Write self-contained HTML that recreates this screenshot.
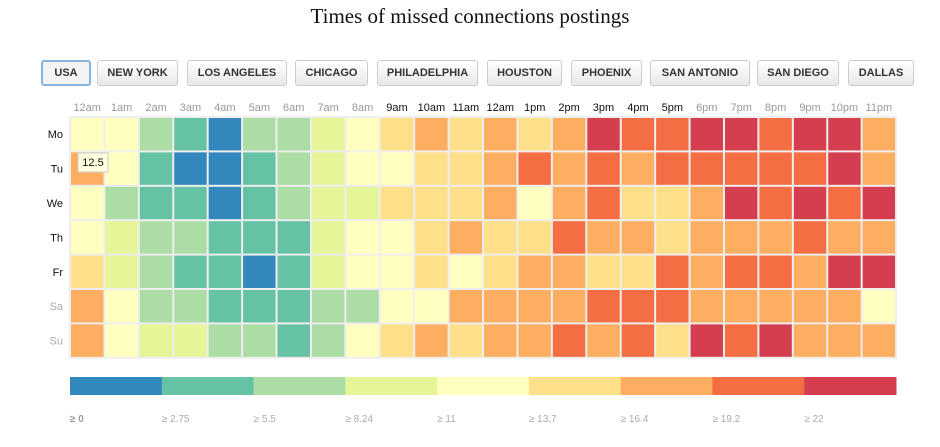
<!DOCTYPE html>
<html><head><meta charset="utf-8"><style>
body{margin:0;width:940px;height:447px;background:#fff;font-family:"Liberation Sans",sans-serif;position:relative;overflow:hidden}
#title{position:absolute;top:4px;left:0;width:940px;text-align:center;font-family:"Liberation Serif",serif;font-size:21px;color:#111}
.btn{position:absolute;top:60px;height:26px;border:1px solid #ccc;border-radius:3px;background:linear-gradient(#fff,#e8e8e8);font-size:11px;font-weight:bold;color:#333;display:flex;align-items:center;justify-content:center;box-sizing:border-box}
.btn.sel{border:2px solid #8ab4e0;background:#f4f4f4}
</style></head><body>
<div id="title">Times of missed connections postings</div>
<div id="buttons"></div>
<svg id="chart" width="940" height="447" style="position:absolute;left:0;top:0"></svg>
<script>
const cities=["USA","NEW YORK","LOS ANGELES","CHICAGO","PHILADELPHIA","HOUSTON","PHOENIX","SAN ANTONIO","SAN DIEGO","DALLAS"];
const btnX=[[41,50],[97,81],[187,100],[295,73],[377,101],[487,75],[571,71],[650,100],[757,82],[848,66]];
const bc=document.getElementById('buttons');
cities.forEach((c,i)=>{const b=document.createElement('div');b.className='btn'+(i===0?' sel':'');


b.style.left=btnX[i][0]+'px';b.style.width=btnX[i][1]+'px';b.textContent=c;bc.appendChild(b);});

const hours=["12am","1am","2am","3am","4am","5am","6am","7am","8am","9am","10am","11am","12am","1pm","2pm","3pm","4pm","5pm","6pm","7pm","8pm","9pm","10pm","11pm"];
const days=["Mo","Tu","We","Th","Fr","Sa","Su"];
const thresholds=[0,2.75,5.5,8.24,11,13.7,16.4,19.2,22];
const thresholdLabels=["≥ 0","≥ 2.75","≥ 5.5","≥ 8.24","≥ 11","≥ 13.7","≥ 16.4","≥ 19.2","≥ 22"];
const colors=["#3288bd","#66c2a5","#abdda4","#e6f598","#ffffbf","#fee08b","#fdae61","#f46d43","#d53e4f"];
const valMo=[12,12,7,4,1,7,7,9.5,12,15,18,15,18,15,18,23,21,21,23,23,21,23,23,18];
const valTu=[18,12,4,1,1,4,7,9.5,12,12,15,15,18,21,18,21,18,21,21,21,21,21,23,18];
const valWe=[12,7,4,4,1,4,7,9.5,9.5,15,15,15,18,12,18,21,15,15,18,23,21,23,21,23];
const valTh=[12,9.5,7,7,4,4,4,9.5,12,12,15,18,15,15,21,18,18,15,18,18,18,21,18,18];
const valFr=[15,9.5,7,4,4,1,4,9.5,12,12,15,12,15,18,18,15,15,21,18,21,21,18,23,23];
const valSa=[18,12,7,7,4,4,4,7,7,12,12,18,18,18,18,21,21,21,18,18,18,18,18,12];
const valSu=[18,12,9.5,9.5,7,7,4,7,12,15,18,15,18,18,21,18,21,15,23,21,23,18,18,18];
const values=[valMo,valTu,valWe,valTh,valFr,valSa,valSu];
const tooltipValue="12.5";

const NS='http://www.w3.org/2000/svg';const svg=document.getElementById('chart');
const X0=70,Y0=117,CW=34.42,CH=34.4;
const xPos=i=>X0+i*CW, yPos=j=>Y0+j*CH;
function colorOf(v){let k=0;thresholds.forEach((t,i)=>{if(v>=t)k=i;});return colors[k];}
function mk(tag,attrs){const e=document.createElementNS(NS,tag);for(const k in attrs)e.setAttribute(k,attrs[k]);svg.appendChild(e);return e;}
mk('rect',{x:X0-1,y:Y0-1,width:CW*24+2,height:CH*7+2,fill:'#eee'});
hours.forEach((h,i)=>{const t=mk('text',{x:xPos(i)+CW/2,y:111,'text-anchor':'middle','font-size':11,fill:(i>=9&&i<=17)?'#111':'#999'});


t.textContent=h;});
days.forEach((d,j)=>{const t=mk('text',{x:63,y:yPos(j)+CH/2+4,'text-anchor':'end','font-size':11,fill:j>=5?'#aaa':'#111'});


t.textContent=d;});
values.forEach((row,j)=>row.forEach((v,i)=>{const r=mk('rect',{x:xPos(i)+1,y:yPos(j)+1,width:CW-2,height:CH-2,fill:colorOf(v)});

}));
const tg=mk('rect',{x:78,y:153,width:30,height:19,fill:'#ffffe0',stroke:'#ccc'});


const tt=mk('text',{x:93,y:166,'text-anchor':'middle','font-size':11,fill:'#111'});


tt.textContent=tooltipValue;
const LW=(896-70)/9;
colors.forEach((c,k)=>{const r=mk('rect',{x:70+k*LW,y:377,width:LW+0.5,height:18,fill:c});


const t=mk('text',{x:70+k*LW,y:422,'font-size':10,fill:k===0?'#999':'#aaa','font-weight':k===0?'bold':'normal'});


t.textContent=thresholdLabels[k];});
</script>
</body></html>
